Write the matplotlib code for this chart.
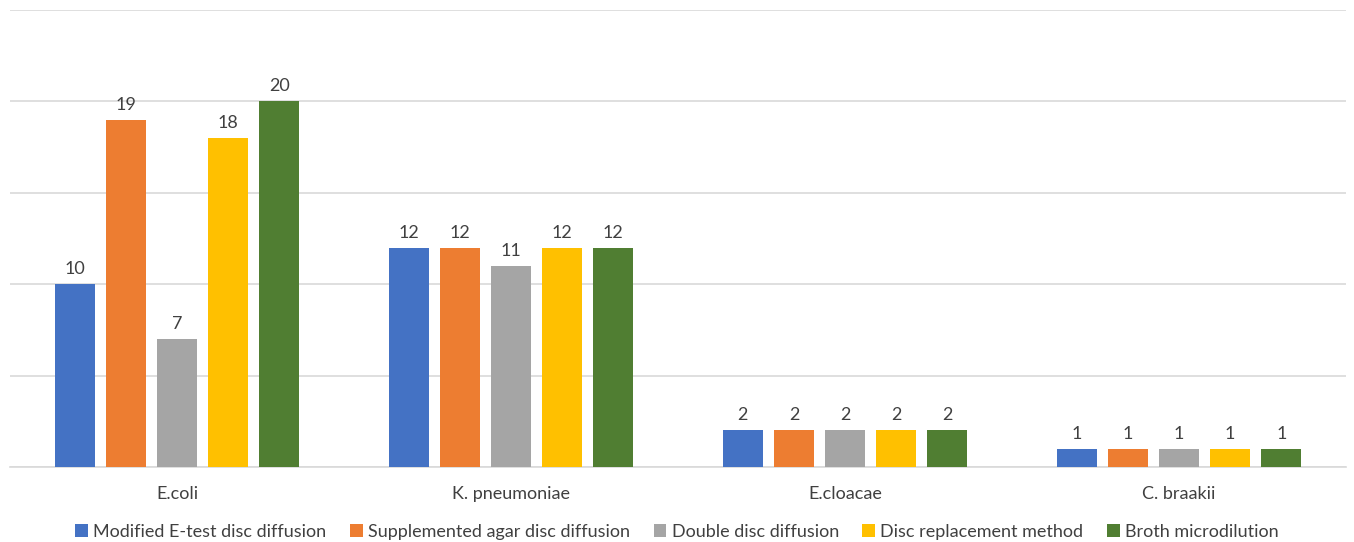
import matplotlib
matplotlib.use("Agg")
import matplotlib.pyplot as plt
import numpy as np

categories = ["E.coli", "K. pneumoniae", "E.cloacae", "C. braakii"]
series_names = ["Modified E-test disc diffusion", "Supplemented agar disc diffusion",
                "Double disc diffusion", "Disc replacement method", "Broth microdilution"]
modified_etest = [10, 12, 2, 1]
supplemented_agar = [19, 12, 2, 1]
double_disc = [7, 11, 2, 1]
disc_replacement = [18, 12, 2, 1]
broth_micro = [20, 12, 2, 1]
series_values = [modified_etest, supplemented_agar, double_disc, disc_replacement, broth_micro]
colors = ["#4472C4", "#ED7D31", "#A5A5A5", "#FFC000", "#507E32"]

plt.rcParams['font.family'] = ['Lato', 'DejaVu Sans']

fig = plt.figure(figsize=(13.54, 5.42), dpi=100)
ax = fig.add_axes([10/1354, 1-467/542, 1336/1354, (467-10)/542])

x = np.arange(len(categories))
step = 0.153
width = 0.12
for i, (name, vals, c) in enumerate(zip(series_names, series_values, colors)):
    pos = x + (i - 2) * step
    bars = ax.bar(pos, vals, width=width, color=c, label=name, zorder=3)
    for b, v in zip(bars, vals):
        ax.annotate(str(v), (b.get_x() + b.get_width()/2, v), xytext=(0, 5),
                    textcoords="offset points", ha="center", va="bottom",
                    fontsize=13, color="#404040")

ax.set_xlim(-0.5, len(categories) - 0.5)
ax.set_ylim(0, 25)
ax.set_yticks([0, 5, 10, 15, 20, 25])
ax.yaxis.grid(True, color="#D9D9D9", linewidth=1.2, zorder=0)
ax.tick_params(axis='y', left=False, labelleft=False)
ax.tick_params(axis='x', bottom=False, labelsize=13, labelcolor="#404040", pad=10)
ax.set_xticks(x)
ax.set_xticklabels(categories)
for s in ["top", "right", "left"]:
    ax.spines[s].set_visible(False)
ax.spines["bottom"].set_color("#D9D9D9")
ax.spines["bottom"].set_linewidth(1.2)

leg = fig.legend(loc="center", bbox_to_anchor=(0.5, 1-532/542), ncol=5, frameon=False,
                 fontsize=13, handlelength=0.7, handleheight=0.7, handletextpad=0.3,
                 columnspacing=1.3, labelcolor="#404040")

fig.savefig("out.png", dpi=100)
